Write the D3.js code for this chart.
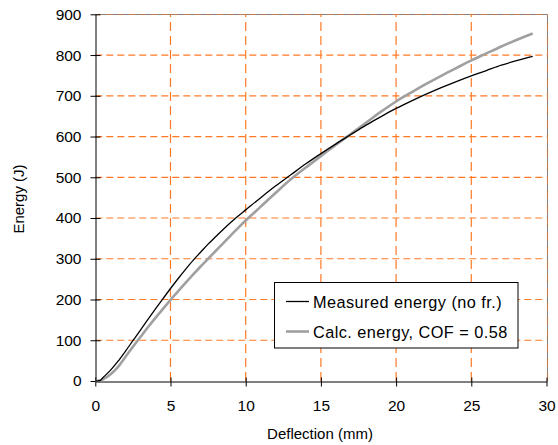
<!DOCTYPE html>
<html>
<head>
<meta charset="utf-8">
<script src="https://cdn.jsdelivr.net/npm/d3@7"></script>
<style>
  html, body { margin: 0; padding: 0; background: #fff; }
  svg { display: block; font-family: "Liberation Sans", Arial, sans-serif; }
</style>
</head>
<body>
<svg id="chart" width="558" height="445"></svg>
<script>
// Deflection (mm) sample points
const deflection = [0,0.3,0.5,1,1.5,2,2.5,3,3.5,4,4.5,5,5.5,6,6.5,7,7.5,8,8.5,9,9.5,10,11,12,13,14,15,16,17,18,19,20,21,22,23,24,25,26,27,28,29.08];
// Measured energy (J), no friction
const measuredEnergy = [0,1,8,26,48,73,99,125,151,177,202,227,251,274,296,316,336,354,372,389,405,420,450,479,506,533,558,582,605,628,649,669,687,704,720,735,749,762,775,786,797];
// Calculated energy (J), COF = 0.58
const calcEnergy = [0,1,4,16,34,59,84,108,132,155,177,199,220,241,261,281,300,319,338,357,376,394,428,462,495,524,552,580,607,634,661,686,708,729,749,768,787,804,821,837,853];

const xTicks = [0,5,10,15,20,25,30];
const yTicks = [0,100,200,300,400,500,600,700,800,900];
const seriesNames = ["Measured energy (no fr.)", "Calc. energy, COF = 0.58"];

const svg = d3.select("#chart");
const W = 558, H = 445;
const margin = {left: 95.3, right: W - 546.5, top: 14.3, bottom: H - 381};

const x = d3.scaleLinear().domain([0, 30]).range([margin.left, W - margin.right]);
const y = d3.scaleLinear().domain([0, 900]).range([H - margin.bottom, margin.top]);
const px = v => Math.round(v) + 0.5;

const gridColor = "#ff7a26";

// plot frame (top and right)
svg.append("path")
  .attr("d", `M${px(x(0))},${px(y(900))}H${px(x(30))}V${px(y(0))}`)
  .attr("fill", "none").attr("stroke", "#808080").attr("stroke-width", 1);

// gridlines (the ones on the frame are drawn translucent over it)
svg.append("g").selectAll("line").data(yTicks.filter(d => d > 0)).join("line")
  .attr("x1", x(0)).attr("x2", x(30))
  .attr("y1", d => d === 900 ? px(y(d)) : y(d)).attr("y2", d => d === 900 ? px(y(d)) : y(d))
  .attr("stroke", gridColor).attr("stroke-opacity", d => d === 900 ? 0.5 : 1)
  .attr("stroke-width", 1.2).attr("stroke-dasharray", "7,4");
svg.append("g").selectAll("line").data(xTicks.filter(d => d > 0)).join("line")
  .attr("y1", y(0)).attr("y2", y(900))
  .attr("x1", d => d === 30 ? px(x(d)) : x(d)).attr("x2", d => d === 30 ? px(x(d)) : x(d))
  .attr("stroke", gridColor).attr("stroke-opacity", d => d === 30 ? 0.5 : 1)
  .attr("stroke-width", 1.2).attr("stroke-dasharray", "9,5");

// axes
const xAxis = d3.axisBottom(x).tickValues(xTicks).tickSizeInner(4).tickSizeOuter(0).tickPadding(14);
const yAxis = d3.axisLeft(y).tickValues(yTicks).tickSizeInner(5).tickSizeOuter(0).tickPadding(9);

const gx = svg.append("g").attr("transform", `translate(0,${px(y(0))})`).call(xAxis);
const gy = svg.append("g").attr("transform", `translate(${px(x(0))},0)`).call(yAxis);
[gx, gy].forEach(g => {
  g.select(".domain").attr("stroke", "#000");
  g.selectAll(".tick line").attr("stroke", "#000");
  g.selectAll(".tick text").attr("fill", "#000").attr("font-size", 15.5)
    .attr("font-family", "'Liberation Sans', Arial, sans-serif");
});
// ticks cross the axes
gx.selectAll(".tick line").attr("y1", -4).attr("y2", 5);
gy.selectAll(".tick line").attr("x1", 5).attr("x2", -5);

// axis titles
svg.append("text").attr("x", 320).attr("y", 439).attr("text-anchor", "middle")
  .attr("font-size", 15).text("Deflection (mm)");
svg.append("text").attr("transform", "translate(24,199) rotate(-90)").attr("text-anchor", "middle")
  .attr("font-size", 15).text("Energy (J)");

// series
const line = d3.line().x((d, i) => x(deflection[i])).y(d => y(d)).curve(d3.curveMonotoneX);
svg.append("path").datum(calcEnergy).attr("d", line)
  .attr("fill", "none").attr("stroke", "#a0a0a0").attr("stroke-width", 2.6);
svg.append("path").datum(measuredEnergy).attr("d", line)
  .attr("fill", "none").attr("stroke", "#000").attr("stroke-width", 1.3);

// legend
const lg = svg.append("g");
lg.append("rect").attr("x", 274.5).attr("y", 282.5).attr("width", 243.5).attr("height", 65.5)
  .attr("fill", "#fff").attr("stroke", "#000").attr("stroke-width", 1);
const legendStyles = [{stroke: "#000", w: 1.3}, {stroke: "#a0a0a0", w: 2.6}];
seriesNames.forEach((name, i) => {
  const cy = 301.5 + i * 30;
  lg.append("line").attr("x1", 286).attr("x2", 309).attr("y1", cy).attr("y2", cy)
    .attr("stroke", legendStyles[i].stroke).attr("stroke-width", legendStyles[i].w);
  lg.append("text").attr("x", 313).attr("y", cy + 6).attr("font-size", 16.3)
    .attr("letter-spacing", 0.45).text(name);
});
</script>
</body>
</html>
